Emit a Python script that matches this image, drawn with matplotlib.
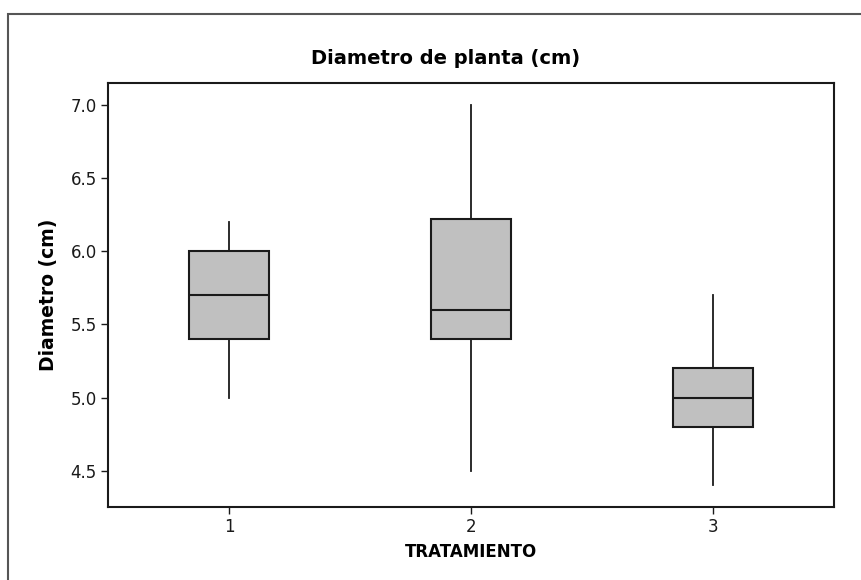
import matplotlib
matplotlib.use("Agg")
import matplotlib.pyplot as plt
from matplotlib.patches import Rectangle

# Box plot summary per treatment
tratamientos = ["1", "2", "3"]
whisker_low = [5.0, 4.5, 4.4]
q1 = [5.4, 5.4, 4.8]
median = [5.7, 5.6, 5.0]
q3 = [6.0, 6.22, 5.2]
whisker_high = [6.2, 7.0, 5.7]
y_ticks = [4.5, 5.0, 5.5, 6.0, 6.5, 7.0]

W, H = 861, 580
fig = plt.figure(figsize=(W / 100, H / 100), dpi=100)
fig.patch.set_facecolor("white")

# Outer frame around the graph region
fig.add_artist(Rectangle((8 / W, -0.1), 1.2, 1 - 14 / H + 0.1,
                         transform=fig.transFigure, fill=False,
                         edgecolor="#555555", linewidth=1.5))

ax = fig.add_axes([108 / W, 1 - 507 / H, (834 - 108) / W, (507 - 83) / H])

stats = []
for i, lab in enumerate(tratamientos):
    stats.append(dict(label=lab, whislo=whisker_low[i], q1=q1[i], med=median[i],
                      q3=q3[i], whishi=whisker_high[i], fliers=[]))

ax.bxp(stats, positions=[1, 2, 3], widths=0.33, patch_artist=True,
       showcaps=False, showfliers=False,
       boxprops=dict(facecolor="#c0c0c0", edgecolor="#1a1a1a", linewidth=1.5),
       medianprops=dict(color="#1a1a1a", linewidth=1.5),
       whiskerprops=dict(color="#1a1a1a", linewidth=1.3))

ax.set_xlim(0.5, 3.5)
ax.set_ylim(4.252, 7.150)
ax.set_yticks(y_ticks)
ax.set_yticklabels([f"{v:.1f}" for v in y_ticks])
ax.set_xticks([1, 2, 3])
ax.set_xticklabels(tratamientos)

for s in ax.spines.values():
    s.set_color("#1a1a1a")
    s.set_linewidth(1.5)
ax.tick_params(axis="both", direction="out", length=5, width=1,
               color="#1a1a1a", labelsize=12, labelcolor="#1a1a1a", pad=3)
ax.tick_params(top=False, right=False)

ax.set_ylabel("Diametro (cm)", fontsize=13.5, fontweight="bold", labelpad=9)
ax.set_xlabel("TRATAMIENTO", fontsize=12, fontweight="bold", labelpad=5)
fig.text(446 / W, 1 - 58 / H, "Diametro de planta (cm)",
         ha="center", va="center", fontsize=14, fontweight="bold")

fig.savefig("out.png", dpi=100)
